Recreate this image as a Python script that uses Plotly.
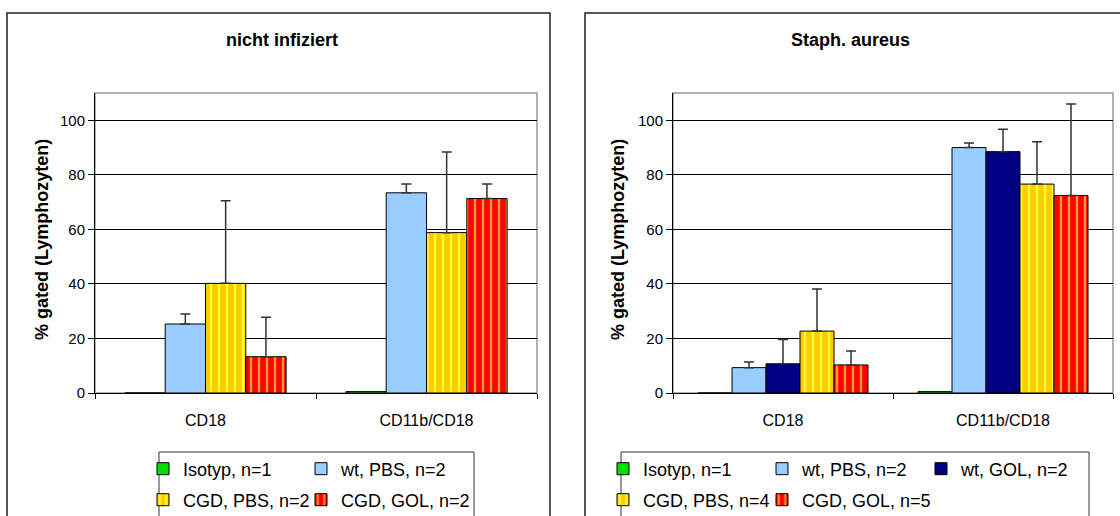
import plotly.graph_objects as go

# ---------------- data ----------------
categories = ["CD18", "CD11b/CD18"]

left_title = "nicht infiziert"
left_names = ["Isotyp, n=1", "wt, PBS, n=2", "CGD, PBS, n=2", "CGD, GOL, n=2"]
left_isotyp = [0, 0.5]
left_wt_pbs = [25.3, 73.4]
left_cgd_pbs = [40.2, 58.8]
left_cgd_gol = [13.3, 71.3]
left_wt_pbs_err = [3.7, 3.2]
left_cgd_pbs_err = [30.3, 29.6]
left_cgd_gol_err = [14.5, 5.3]

right_title = "Staph. aureus"
right_names = ["Isotyp, n=1", "wt, PBS, n=2", "wt, GOL, n=2", "CGD, PBS, n=4", "CGD, GOL, n=5"]
right_isotyp = [0, 0.5]
right_wt_pbs = [9.3, 90.0]
right_wt_gol = [10.7, 88.5]
right_cgd_pbs = [22.7, 76.6]
right_cgd_gol = [10.3, 72.4]
right_wt_pbs_err = [2.1, 1.7]
right_wt_gol_err = [8.9, 8.2]
right_cgd_pbs_err = [15.4, 15.5]
right_cgd_gol_err = [5.1, 33.6]

y_ticks = [0, 20, 40, 60, 80, 100]
y_title = "% gated (Lymphozyten)"

# ---------------- styles ----------------
W, H = 1120, 516
FONT = "Liberation Sans, Arial, sans-serif"
styles = {
    "iso": dict(color="#00E000", pattern=None),
    "wtp": dict(color="#99CCFF", pattern=None),
    "wtg": dict(color="#000080", pattern=None),
    "cgp": dict(color="#FFCC00", pattern=dict(shape="|", bgcolor="#FFCC00", fgcolor="#FFFF33",
                                               size=8, solidity=0.3, fillmode="replace")),
    "cgg": dict(color="#FF0000", pattern=dict(shape="|", bgcolor="#FF0000", fgcolor="#FF9933",
                                               size=8, solidity=0.3, fillmode="replace")),
}


def px_x(p):
    return p / W


def px_y(p):
    return (H - p) / H


fig = go.Figure()


def add_panel(series, xa, ya, barw, legends, last_in_row):
    n = len(series)
    for i, (name, vals, errs, key) in enumerate(series):
        st = styles[key]
        marker = dict(color=st["color"], line=dict(color="#000000", width=1))
        if st["pattern"]:
            marker["pattern"] = st["pattern"]
        err = dict(visible=False)
        if errs is not None:
            err = dict(type="data", symmetric=False, array=errs, arrayminus=[0] * len(errs),
                       color="#333333", thickness=1.5, width=5)
        kw = {}
        if i in last_in_row:
            kw["legendwidth"] = 170
        fig.add_trace(go.Bar(
            x=categories, y=vals, name=name, xaxis=xa, yaxis=ya,
            marker=marker, error_y=err,
            width=barw, offset=-n * barw / 2 + i * barw,
            legend=legends[i], showlegend=True, **kw,
        ))


left_series = [
    (left_names[0], left_isotyp, None, "iso"),
    (left_names[1], left_wt_pbs, left_wt_pbs_err, "wtp"),
    (left_names[2], left_cgd_pbs, left_cgd_pbs_err, "cgp"),
    (left_names[3], left_cgd_gol, left_cgd_gol_err, "cgg"),
]
right_series = [
    (right_names[0], right_isotyp, None, "iso"),
    (right_names[1], right_wt_pbs, right_wt_pbs_err, "wtp"),
    (right_names[2], right_wt_gol, right_wt_gol_err, "wtg"),
    (right_names[3], right_cgd_pbs, right_cgd_pbs_err, "cgp"),
    (right_names[4], right_cgd_gol, right_cgd_gol_err, "cgg"),
]

add_panel(left_series, "x", "y", 40.3 / 221, ["legend", "legend", "legend2", "legend2"], {1, 3})
add_panel(right_series, "x2", "y2", 34 / 220, ["legend3", "legend3", "legend3", "legend4", "legend4"], {2, 4})

ydom = [px_y(393), px_y(93)]
xaxis_common = dict(type="category", range=[-0.5, 1.5], showline=True, linecolor="#000000", linewidth=1,
                    ticks="outside", tickson="boundaries", ticklen=5, tickcolor="#000000",
                    showgrid=False, tickfont=dict(size=16, color="#000000"), zeroline=False,
                    ticklabelstandoff=13, fixedrange=True)
yaxis_common = dict(range=[0, 110], tickvals=y_ticks, showline=True, linecolor="#000000", linewidth=1,
                    ticks="outside", ticklen=6, tickcolor="#000000", showgrid=True,
                    gridcolor="#000000", gridwidth=1, zeroline=False,
                    tickfont=dict(size=15, color="#000000"), domain=ydom, fixedrange=True)

leg_common = dict(orientation="h", font=dict(size=18, color="#000000", family=FONT),
                  bgcolor="rgba(0,0,0,0)", borderwidth=0, xanchor="left", yanchor="middle",
                  traceorder="normal", itemwidth=30)

fig.update_layout(
    width=W, height=H, margin=dict(l=0, r=0, t=0, b=0, autoexpand=False),
    paper_bgcolor="#FFFFFF", plot_bgcolor="#FFFFFF",
    font=dict(family=FONT, color="#000000"),
    barmode="overlay",
    xaxis=dict(domain=[px_x(95), px_x(537)], anchor="y", **xaxis_common),
    yaxis=dict(anchor="x", **yaxis_common),
    xaxis2=dict(domain=[px_x(673), px_x(1113)], anchor="y2", **xaxis_common),
    yaxis2=dict(anchor="x2", **yaxis_common),
    legend=dict(x=px_x(143), y=px_y(469), entrywidth=113, **leg_common),
    legend2=dict(x=px_x(143), y=px_y(500), entrywidth=113, **leg_common),
    legend3=dict(x=px_x(603), y=px_y(469), entrywidth=114, **leg_common),
    legend4=dict(x=px_x(603), y=px_y(500), entrywidth=114, **leg_common),
    showlegend=True,
)

shapes = [
    # outer chart borders
    dict(type="rect", xref="paper", yref="paper", x0=px_x(7), x1=px_x(550), y0=-0.1, y1=px_y(13),
         line=dict(color="#222222", width=1.5), layer="below"),
    dict(type="rect", xref="paper", yref="paper", x0=px_x(585), x1=1.05, y0=-0.1, y1=px_y(13),
         line=dict(color="#222222", width=1.5), layer="below"),
    # plot-area frames
    dict(type="rect", xref="x domain", yref="y domain", x0=0, x1=1, y0=0, y1=1,
         line=dict(color="#999999", width=1.5), layer="below"),
    dict(type="rect", xref="x2 domain", yref="y2 domain", x0=0, x1=1, y0=0, y1=1,
         line=dict(color="#999999", width=1.5), layer="below"),
    # legend boxes
    dict(type="rect", xref="paper", yref="paper", x0=px_x(159), x1=px_x(474), y0=-0.1, y1=px_y(452),
         line=dict(color="#333333", width=1), layer="below"),
    dict(type="rect", xref="paper", yref="paper", x0=px_x(621), x1=px_x(1089), y0=-0.1, y1=px_y(452),
         line=dict(color="#333333", width=1), layer="below"),
]
fig.update_layout(shapes=shapes)

annotations = [
    dict(text=f"<b>{left_title}</b>", x=px_x(282), y=px_y(40), xref="paper", yref="paper",
         showarrow=False, font=dict(size=18), xanchor="center", yanchor="middle"),
    dict(text=f"<b>{right_title}</b>", x=px_x(850), y=px_y(40), xref="paper", yref="paper",
         showarrow=False, font=dict(size=18), xanchor="center", yanchor="middle"),
    dict(text=f"<b>{y_title}</b>", x=px_x(42), y=px_y(240), xref="paper", yref="paper",
         showarrow=False, font=dict(size=18), textangle=-90, xanchor="center", yanchor="middle"),
    dict(text=f"<b>{y_title}</b>", x=px_x(618), y=px_y(240), xref="paper", yref="paper",
         showarrow=False, font=dict(size=18), textangle=-90, xanchor="center", yanchor="middle"),
]
fig.update_layout(annotations=annotations)

fig.write_html("out.html")
